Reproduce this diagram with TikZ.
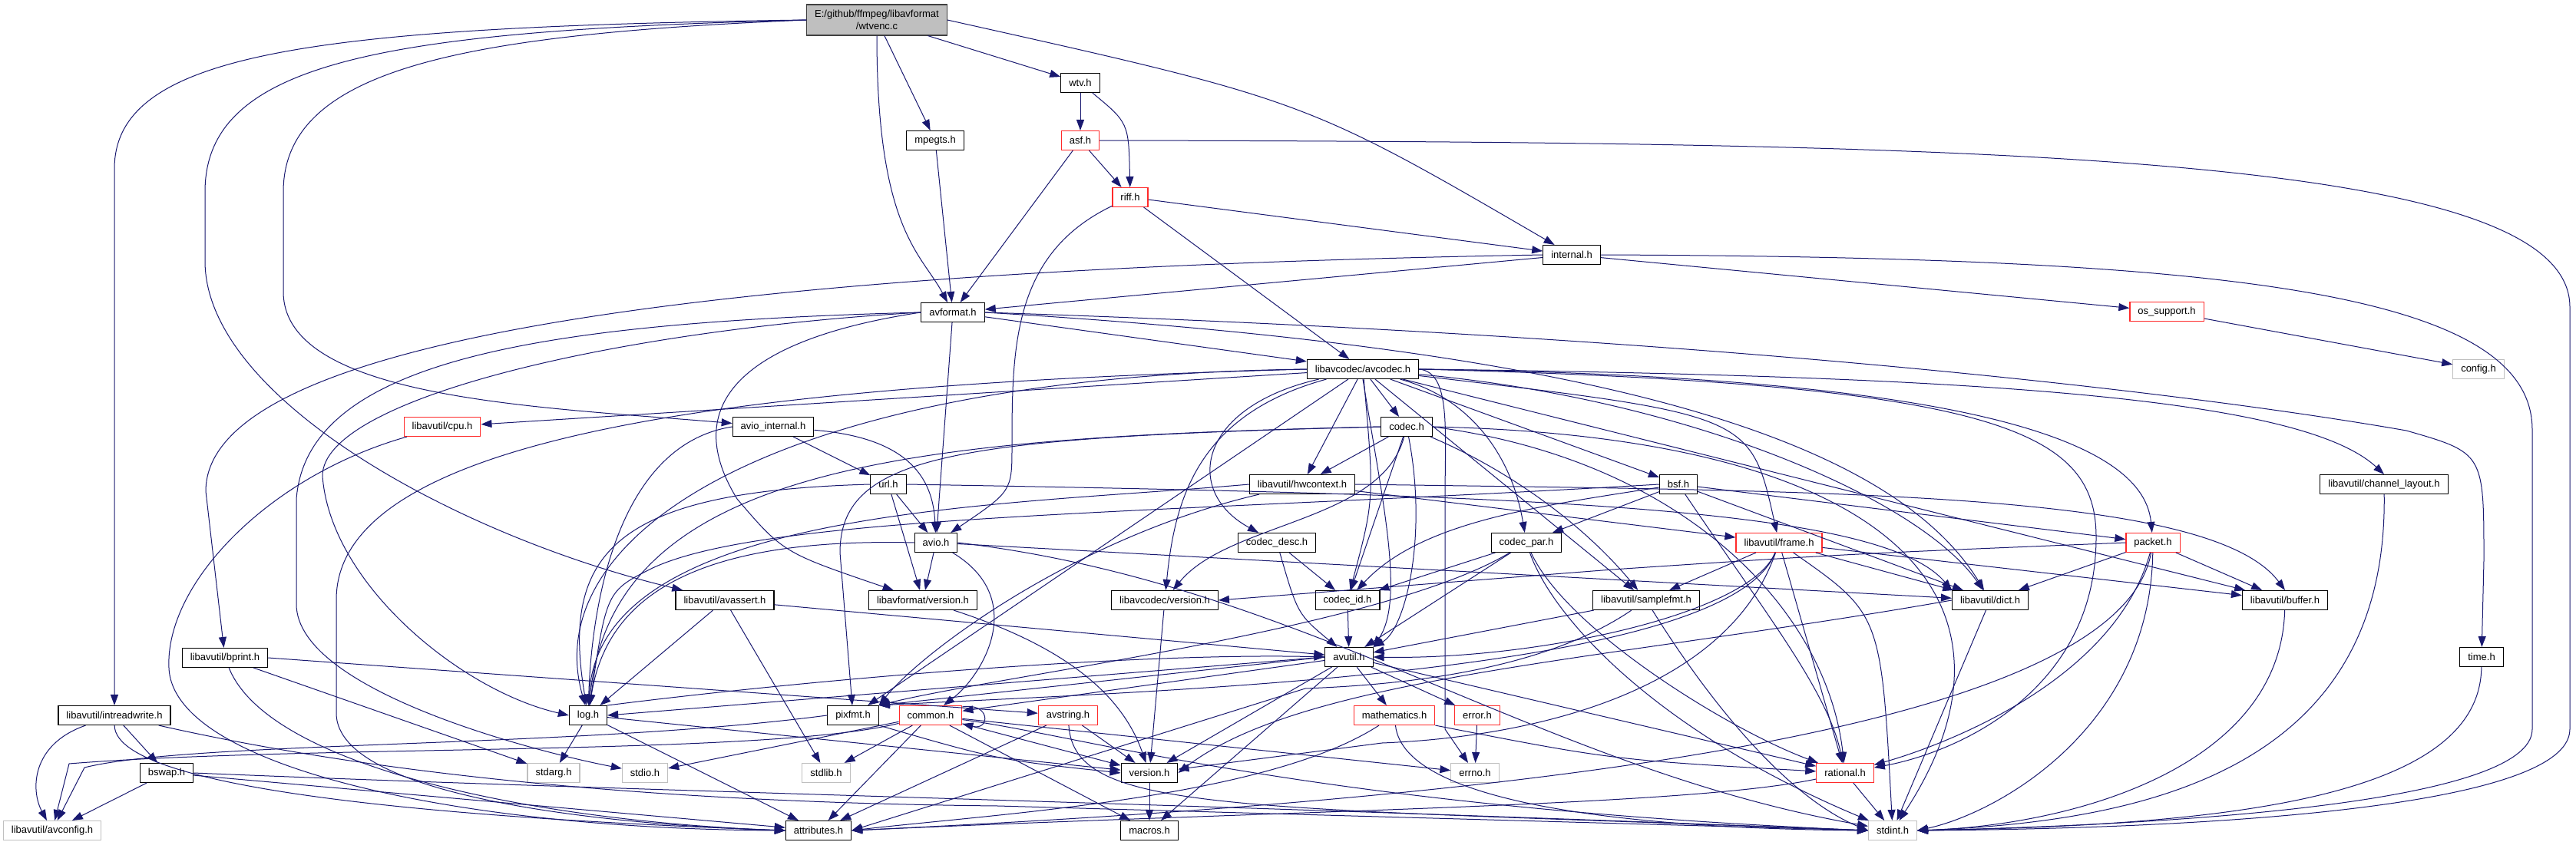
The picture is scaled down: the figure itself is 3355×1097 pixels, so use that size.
\documentclass[tikz,border=0pt]{standalone}
\usepackage{fontspec}
\setmainfont{Liberation Sans}
\usetikzlibrary{arrows.meta}
\definecolor{inclblue}{HTML}{191970}
\definecolor{truncred}{HTML}{FF2A2A}
\definecolor{sysgray}{HTML}{BFBFBF}
\definecolor{srcline}{HTML}{404040}
\newcommand\hdrfont{\fontsize{13}{16}\selectfont}

\begin{document}
\begin{tikzpicture}[x=1pt,y=-1pt,>={Triangle[length=14pt,width=10pt]},
  hdr/.style={draw=black,fill=white,line width=1.1pt,minimum height=25pt,
    inner xsep=10.5pt,inner ysep=0pt,font=\hdrfont},
  redhdr/.style={hdr,draw=truncred},
  grayhdr/.style={hdr,draw=sysgray},
  dep/.style={->,draw=inclblue,line width=1pt}]
  \path[use as bounding box,fill=white] (0,0) rectangle (3355,1097);

  % header boxes, one row of the include graph after another
  \node[hdr,fill=sysgray,draw=srcline,align=center,minimum height=40pt]
    (src) at (1142,26) {E:/github/ffmpeg/libavformat\\/wtvenc.c};
  \node[hdr] (wtv) at (1407,108) {wtv.h};
  \node[hdr] (mpegts) at (1218,183) {mpegts.h};
  \node[redhdr] (asf) at (1407,183) {asf.h};
  \node[redhdr] (riff) at (1472,257) {riff.h};
  \node[hdr] (internal) at (2047,332) {internal.h};
  \node[hdr] (avformat) at (1241,407) {avformat.h};
  \node[redhdr] (ossupport) at (2822,406) {os\_support.h};
  \node[grayhdr] (config) at (3228,481) {config.h};
  \node[hdr] (avcodec) at (1775,481) {libavcodec/avcodec.h};
  \node[redhdr] (cpu) at (576,556) {libavutil/cpu.h};
  \node[hdr] (aviointernal) at (1007,556) {avio\_internal.h};
  \node[hdr] (codec) at (1832,556) {codec.h};
  \node[hdr] (url) at (1157,631) {url.h};
  \node[hdr] (hwcontext) at (1696,631) {libavutil/hwcontext.h};
  \node[hdr] (bsf) at (2186,631) {bsf.h};
  \node[hdr] (chlayout) at (3105,631) {libavutil/channel\_layout.h};
  \node[hdr] (avio) at (1219,707) {avio.h};
  \node[hdr] (codecdesc) at (1663,707) {codec\_desc.h};
  \node[hdr] (codecpar) at (1988,707) {codec\_par.h};
  \node[redhdr] (frame) at (2317,707) {libavutil/frame.h};
  \node[redhdr] (packet) at (2804,707) {packet.h};
  \node[hdr] (avassert) at (944,782) {libavutil/avassert.h};
  \node[hdr] (lavfversion) at (1202,782) {libavformat/version.h};
  \node[hdr] (lavcversion) at (1517,782) {libavcodec/version.h};
  \node[hdr] (codecid) at (1755,782) {codec\_id.h};
  \node[hdr] (samplefmt) at (2144,782) {libavutil/samplefmt.h};
  \node[hdr] (dict) at (2592,782) {libavutil/dict.h};
  \node[hdr] (buffer) at (2976,782) {libavutil/buffer.h};
  \node[hdr] (bprint) at (293,857) {libavutil/bprint.h};
  \node[hdr] (avutil) at (1757,856) {avutil.h};
  \node[hdr] (time) at (3232,856) {time.h};
  \node[hdr] (intreadwrite) at (149,932) {libavutil/intreadwrite.h};
  \node[hdr] (log) at (766,932) {log.h};
  \node[hdr] (pixfmt) at (1111,932) {pixfmt.h};
  \node[redhdr] (common) at (1212,932) {common.h};
  \node[redhdr] (avstring) at (1391,932) {avstring.h};
  \node[redhdr] (mathematics) at (1816,932) {mathematics.h};
  \node[redhdr] (error) at (1924,932) {error.h};
  \node[hdr] (bswap) at (217,1007) {bswap.h};
  \node[grayhdr] (stdarg) at (721,1007) {stdarg.h};
  \node[grayhdr] (stdio) at (840,1007) {stdio.h};
  \node[grayhdr] (stdlib) at (1076,1007) {stdlib.h};
  \node[hdr] (version) at (1497,1007) {version.h};
  \node[grayhdr] (errno) at (1921,1007) {errno.h};
  \node[redhdr] (rational) at (2403,1007) {rational.h};
  \node[grayhdr] (avconfig) at (68,1082) {libavutil/avconfig.h};
  \node[hdr] (attributes) at (1066,1082) {attributes.h};
  \node[hdr] (macros) at (1497,1082) {macros.h};
  \node[grayhdr] (stdint) at (2465,1082) {stdint.h};

  % wtvenc.c
  \draw[dep] (src) -- (wtv);
  \draw[dep] (src) -- (mpegts);
  \draw[dep] (src.south) .. controls (1142,300) and (1200,330) .. (avformat);
  \draw[dep] (src.east) .. controls (1700,130) .. (internal);
  \draw[dep] (src.west) .. controls (400,35) and (149,70) .. (149,220) -- (intreadwrite);
  \draw[dep] (src.west) .. controls (500,40) and (267,80) .. (267,250) -- (267,340)
    .. controls (267,520) and (600,700) .. (avassert);
  \draw[dep] (src.west) .. controls (600,45) and (369,90) .. (369,250) -- (369,380)
    .. controls (369,520) and (700,530) .. (aviointernal);

  % libavformat headers
  \draw[dep] (wtv) -- (asf);
  \draw[dep] (wtv) .. controls (1470,160) .. (riff);
  \draw[dep] (asf) -- (riff);
  \draw[dep] (asf) -- (avformat);
  \draw[dep] (asf.east) .. controls (2600,185) and (3347,200) .. (3347,400) -- (3347,950)
    .. controls (3347,1060) and (2800,1080) .. (stdint.east);
  \draw[dep] (mpegts) -- (avformat);
  \draw[dep] (riff) -- (internal);
  \draw[dep] (riff) .. controls (1320,330) and (1318,450) .. (1318,580)
    .. controls (1318,640) .. (avio);
  \draw[dep] (riff) -- (avcodec);
  \draw[dep] (internal) -- (avformat);
  \draw[dep] (internal) -- (ossupport);
  \draw[dep] (internal.west) .. controls (1000,350) and (268,430) .. (268,640) -- (bprint);
  \draw[dep] (internal.east) .. controls (2900,335) and (3298,380) .. (3298,560) -- (3298,950)
    .. controls (3298,1050) and (2800,1075) .. (stdint.east);
  \draw[dep] (ossupport) -- (config);
  \draw[dep] (avformat) -- (avcodec);
  \draw[dep] (avformat) -- (avio);
  \draw[dep] (avformat.west) .. controls (980,440) and (880,520) .. (960,650)
    .. controls (1020,720) .. (lavfversion);
  \draw[dep] (avformat.west) .. controls (800,430) and (420,520) .. (420,620)
    .. controls (430,760) and (600,900) .. (log.west);
  \draw[dep] (avformat.east) .. controls (2000,450) and (2450,550) .. (dict);
  \draw[dep] (avformat.east) .. controls (2300,440) and (2900,520) .. (3134,561)
    .. controls (3235,590) .. (3235,730) -- (time);
  \draw[dep] (avformat.west) .. controls (700,420) and (400,470) .. (386,650) -- (386,787)
    .. controls (386,900) and (700,980) .. (stdio);
  \draw[dep] (aviointernal) .. controls (1180,570) and (1215,620) .. (avio);
  \draw[dep] (aviointernal) -- (url);
  \draw[dep] (aviointernal.west) .. controls (800,580) and (770,800) .. (log);
  \draw[dep] (url) -- (avio);
  \draw[dep] (url) -- (lavfversion);
  \draw[dep] (url.east) .. controls (2000,645) and (2450,660) .. (dict.north west);
  \draw[dep] (url.west) .. controls (800,640) and (730,720) .. (log);
  \draw[dep] (avio) -- (dict);
  \draw[dep] (avio.east) .. controls (1700,760) and (2000,1000) .. (stdint);
  \draw[dep] (avio) .. controls (1340,780) and (1280,880) .. (common);
  \draw[dep] (avio.west) .. controls (900,700) and (790,780) .. (log);
  \draw[dep] (avio) -- (lavfversion);
  \draw[dep] (lavfversion) .. controls (1380,840) and (1460,900) .. (version);

  % libavcodec/avcodec.h
  \draw[dep] (avcodec) -- (hwcontext);
  \draw[dep] (avcodec) -- (codec);
  \draw[dep] (avcodec) -- (bsf);
  \draw[dep] (avcodec) -- (cpu);
  \draw[dep] (avcodec) -- (pixfmt);
  \draw[dep] (avcodec) -- (samplefmt);
  \draw[dep] (avcodec) -- (buffer);
  \draw[dep] (avcodec) .. controls (1790,650) .. (codecid);
  \draw[dep] (avcodec) .. controls (1560,530) and (1540,640) .. (codecdesc);
  \draw[dep] (avcodec) .. controls (1560,540) and (1530,650) .. (lavcversion);
  \draw[dep] (avcodec) .. controls (1920,520) and (1970,600) .. (codecpar);
  \draw[dep] (avcodec) .. controls (2280,540) .. (frame);
  \draw[dep] (avcodec) .. controls (2200,520) and (2500,650) .. (dict);
  \draw[dep] (avcodec.east) .. controls (2500,490) and (2790,560) .. (packet);
  \draw[dep] (avcodec.east) .. controls (2600,490) and (3000,520) .. (chlayout.north);
  \draw[dep] (avcodec.east) .. controls (2600,500) and (2730,560) .. (2730,700)
    .. controls (2730,900) and (2550,980) .. (rational);
  \draw[dep] (avcodec.south) .. controls (1800,650) and (1830,780) .. (avutil.north east);
  \draw[dep] (avcodec.east) .. controls (1890,485) and (1882,560) .. (1882,650) -- (1882,950)
    -- (errno);
  \draw[dep] (avcodec.west) .. controls (1000,490) and (700,700) .. (log);
  \draw[dep] (avcodec.west) .. controls (1000,500) and (440,560) .. (438,780) -- (438,930)
    .. controls (440,1040) and (800,1075) .. (attributes.west);

  % libavcodec: codec.h, codec_desc.h, codec_par.h, bsf.h, packet.h
  \draw[dep] (codec) -- (hwcontext);
  \draw[dep] (codec) -- (codecid);
  \draw[dep] (codec) .. controls (1860,700) and (1830,820) .. (avutil.north east);
  \draw[dep] (codec) .. controls (1960,610) and (2060,680) .. (samplefmt);
  \draw[dep] (codec) .. controls (1800,680) and (1600,680) .. (lavcversion);
  \draw[dep] (codec.east) .. controls (2200,600) and (2380,800) .. (rational);
  \draw[dep] (codec.east) .. controls (2500,570) and (2650,800) .. (stdint);
  \draw[dep] (codec.west) .. controls (1200,570) and (800,600) .. (log);
  \draw[dep] (codec.west) .. controls (1250,570) and (1094,590) .. (1094,720) -- (pixfmt);
  \draw[dep] (codecdesc) -- (codecid);
  \draw[dep] (codecdesc) .. controls (1690,800) .. (avutil);
  \draw[dep] (codecpar) -- (codecid);
  \draw[dep] (codecpar) -- (avutil);
  \draw[dep] (codecpar) .. controls (2040,820) and (2250,950) .. (rational);
  \draw[dep] (codecpar) .. controls (2020,800) and (2150,950) .. (stdint);
  \draw[dep] (codecpar) .. controls (1800,820) and (1300,880) .. (pixfmt.north east);
  \draw[dep] (bsf) -- (codecpar);
  \draw[dep] (bsf) -- (dict);
  \draw[dep] (bsf) -- (packet);
  \draw[dep] (bsf) .. controls (2000,660) and (1850,680) .. (codecid);
  \draw[dep] (bsf) .. controls (2300,800) and (2380,900) .. (rational);
  \draw[dep] (bsf.west) .. controls (1500,670) and (1000,670) .. (850,740)
    .. controls (790,770) .. (log);
  \draw[dep] (packet) -- (dict);
  \draw[dep] (packet) -- (buffer);
  \draw[dep] (packet) .. controls (2750,900) and (2500,980) .. (rational);
  \draw[dep] (packet) .. controls (2800,950) and (2600,1060) .. (stdint.east);
  \draw[dep] (packet) .. controls (2760,950) and (2000,1040) .. (attributes.east);
  \draw[dep] (packet.west) .. controls (2400,722) .. (2100,742) -- (lavcversion.east);
  \draw[dep] (lavcversion) -- (version);
  \draw[dep] (codecid) -- (avutil);

  % libavutil headers
  \draw[dep] (hwcontext) -- (frame);
  \draw[dep] (hwcontext.east) .. controls (2400,640) and (2880,640) .. (buffer.north);
  \draw[dep] (hwcontext.west) .. controls (1300,660) and (780,660) .. (log);
  \draw[dep] (hwcontext) .. controls (1400,700) and (1200,850) .. (pixfmt.north east);
  \draw[dep] (frame) -- (samplefmt);
  \draw[dep] (frame) -- (dict);
  \draw[dep] (frame) -- (buffer);
  \draw[dep] (frame) -- (rational);
  \draw[dep] (frame) .. controls (2450,800) .. (stdint);
  \draw[dep] (frame) .. controls (2280,800) and (2000,860) .. (avutil.east);
  \draw[dep] (frame) .. controls (2250,880) and (1500,900) .. (pixfmt.north east);
  \draw[dep] (frame) .. controls (2250,900) and (2000,960) .. (1800,968) -- (version);
  \draw[dep] (samplefmt) -- (avutil);
  \draw[dep] (samplefmt) .. controls (2230,920) and (2330,1040) .. (stdint.west);
  \draw[dep] (samplefmt) .. controls (2000,880) and (1800,893) .. (1700,897)
    -- (attributes.east);
  \draw[dep] (dict) -- (stdint);
  \draw[dep] (dict.west) .. controls (2100,860) and (1700,880) .. (version.east);
  \draw[dep] (buffer) .. controls (2970,1000) and (2700,1075) .. (stdint.east);
  \draw[dep] (chlayout) .. controls (3110,1000) and (2800,1070) .. (stdint.east);
  \draw[dep] (time) .. controls (3230,1040) and (2900,1075) .. (stdint.east);
  \draw[dep] (avassert) -- (stdlib);
  \draw[dep] (avassert) -- (avutil);
  \draw[dep] (avassert) -- (log);
  \draw[dep] (cpu) .. controls (350,620) and (215,760) .. (220,870)
    .. controls (225,1000) and (600,1080) .. (attributes.west);
  \draw[dep] (bprint) -- (stdarg);
  \draw[dep] (bprint.east) -- (avstring);
  \draw[dep] (bprint) .. controls (350,1000) and (700,1070) .. (attributes.west);
  \draw[dep] (avutil) -- (common);
  \draw[dep] (avutil) -- (error);
  \draw[dep] (avutil) -- (version);
  \draw[dep] (avutil) -- (macros);
  \draw[dep] (avutil) -- (mathematics);
  \draw[dep] (avutil) -- (rational);
  \draw[dep] (avutil.west) -- (log.east);
  \draw[dep] (avutil.west) -- (pixfmt.north east);
  \draw[dep] (intreadwrite) .. controls (40,970) and (40,1030) .. (avconfig);
  \draw[dep] (intreadwrite) -- (bswap);
  \draw[dep] (intreadwrite) .. controls (150,1040) and (700,1070) .. (attributes.west);
  \draw[dep] (intreadwrite) .. controls (450,1000) and (800,1045) .. (1300,1050)
    -- (stdint.west);
  \draw[dep] (bswap) -- (avconfig);
  \draw[dep] (bswap) -- (attributes);
  \draw[dep] (bswap.east) .. controls (800,1030) and (1500,1045) .. (stdint.west);
  \draw[dep] (log) -- (stdarg);
  \draw[dep] (log) -- (attributes);
  \draw[dep] (log) -- (version);
  \draw[dep] (log.north east) .. controls (1100,880) and (1500,850) .. (avutil.west);
  \draw[dep] (pixfmt.south east) .. controls (1300,990) .. (version.west);
  \draw[dep] (pixfmt.west) .. controls (750,975) and (250,965) .. (110,1000) -- (avconfig);
  \draw[dep] (common) -- (stdio);
  \draw[dep] (common) -- (stdlib);
  \draw[dep] (common) -- (attributes);
  \draw[dep] (common) -- (macros);
  \draw[dep] (common) -- (version);
  \draw[dep] (common) -- (errno);
  \draw[dep] (common) .. controls (1420,960) and (1700,1050) .. (stdint.west);
  \draw[dep] (common) .. controls (1000,985) and (400,970) .. (90,995) -- (avconfig);
  \draw[dep] (common.15) .. controls (1290,915) and (1290,952) .. (common.-15);
  \draw[dep] (avstring) -- (version);
  \draw[dep] (avstring) -- (attributes);
  \draw[dep] (avstring) .. controls (1400,1060) and (1600,1050) .. (stdint.west);
  \draw[dep] (mathematics.south east) .. controls (2100,990) .. (rational);
  \draw[dep] (mathematics) .. controls (1830,1060) and (2200,1080) .. (stdint.west);
  \draw[dep] (mathematics) .. controls (1650,1040) and (1300,1060) .. (attributes.east);
  \draw[dep] (error) -- (errno);
  \draw[dep] (rational) -- (stdint);
  \draw[dep] (rational) .. controls (2200,1050) and (1700,1055) .. (attributes.east);
  \draw[dep] (version) -- (macros);
\end{tikzpicture}
\end{document}
